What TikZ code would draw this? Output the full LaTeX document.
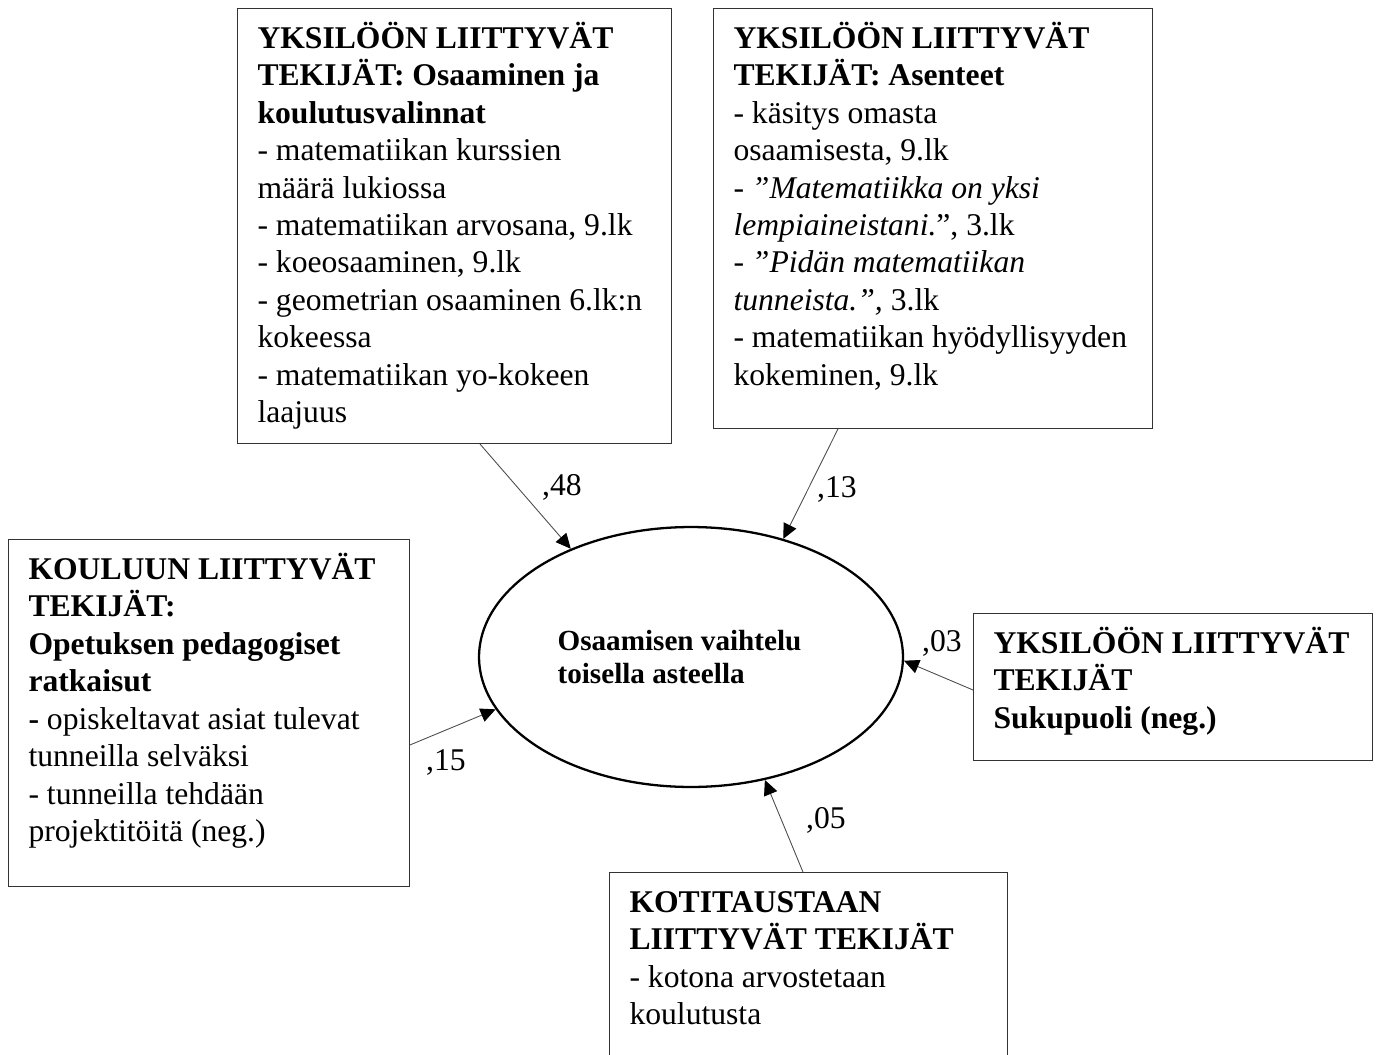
\documentclass[tikz,border=0pt]{standalone}
\usepackage{fontspec}
\setmainfont{Liberation Serif}
\usetikzlibrary{shapes.geometric,arrows.meta}

% box contents: width, height, lines
\newcommand{\ruutu}[3]{\begin{minipage}[t][#2][t]{#1}\begin{tabular}[t]{@{}l@{}}#3\end{tabular}\end{minipage}}

\begin{document}
\begin{tikzpicture}[x=0.02cm, y=-0.02cm,
    laatikko/.style={draw=black!80, line width=0.6pt, anchor=north west,
                     inner xsep=0.4cm, inner ysep=0.27cm, font=\fontsize{18}{21.3}\selectfont},
    soikio/.style={ellipse, draw, line width=1.3pt, minimum width=8.48cm, minimum height=5.2cm,
                   inner sep=0pt, align=left, font=\fontsize{16.6}{18.7}\selectfont\bfseries},
    nuoli/.style={-{Triangle[length=0.3cm, width=0.28cm, color=black]}, draw=black!70, line width=0.5pt},
    luku/.style={inner sep=0pt, font=\fontsize{18}{21.3}\selectfont}
]
    \useasboundingbox (0,0) rectangle (1380,1055);

    \node[soikio] (vaiht) at (691,657) {Osaamisen vaihtelu\hspace*{0.46cm}\\toisella asteella};

    \node[laatikko] (osaam) at (237,8) {\ruutu{7.88cm}{8.16cm}{%
        \textbf{YKSILÖÖN LIITTYVÄT}\\
        \textbf{TEKIJÄT: Osaaminen ja}\\
        \textbf{koulutusvalinnat}\\
        - matematiikan kurssien\\
        määrä lukiossa\\
        - matematiikan arvosana, 9.lk\\
        - koeosaaminen, 9.lk\\
        - geometrian osaaminen 6.lk:n\\
        kokeessa\\
        - matematiikan yo-kokeen\\
        laajuus}};
    \node[laatikko] (asent) at (713,8) {\ruutu{7.98cm}{7.86cm}{%
        \textbf{YKSILÖÖN LIITTYVÄT}\\
        \textbf{TEKIJÄT: Asenteet}\\
        - käsitys omasta\\
        osaamisesta, 9.lk\\
        - \textit{”Matematiikka on yksi}\\
        \textit{lempiaineistani.}”, 3.lk\\
        - \textit{”Pidän matematiikan}\\
        \textit{tunneista.”,} 3.lk\\
        - matematiikan hyödyllisyyden\\
        kokeminen, 9.lk}};
    \node[laatikko] (koulu) at (8,539) {\ruutu{7.22cm}{6.40cm}{%
        \textbf{KOULUUN LIITTYVÄT}\\
        \textbf{TEKIJÄT:}\\
        \textbf{Opetuksen pedagogiset}\\
        \textbf{ratkaisut}\\
        \textbf{-} opiskeltavat asiat tulevat\\
        tunneilla selväksi\\
        - tunneilla tehdään\\
        projektitöitä (neg.)}};
    \node[laatikko] (sukup) at (973,613) {\ruutu{7.18cm}{2.40cm}{%
        \textbf{YKSILÖÖN LIITTYVÄT}\\
        \textbf{TEKIJÄT}\\
        \textbf{Sukupuoli (neg.)}}};
    \node[laatikko] (kotit) at (609,872) {\ruutu{7.16cm}{3.46cm}{%
        \textbf{KOTITAUSTAAN}\\
        \textbf{LIITTYVÄT TEKIJÄT}\\
        - kotona arvostetaan\\
        koulutusta}};

    % paths into the ellipse
    \draw[nuoli] ([xshift=4.86cm]osaam.south west) -- (vaiht.138);
    \draw[nuoli] ([xshift=2.50cm]asent.south west) -- (vaiht.52);
    \draw[nuoli] ([yshift=-1.54cm]sukup.north west) -- (vaiht.-1);
    \draw[nuoli] ([yshift=-4.12cm]koulu.north east) -- (vaiht.195);
    \draw[nuoli] ([xshift=3.88cm]kotit.north west) -- (vaiht.-59);

    \node[luku] (k48) at (562,487) {,48};
    \node[luku] (k13) at (837,489) {,13};
    \node[luku] (k03) at (942,643) {,03};
    \node[luku] (k15) at (446,762) {,15};
    \node[luku] (k05) at (826,820) {,05};
\end{tikzpicture}
\end{document}
